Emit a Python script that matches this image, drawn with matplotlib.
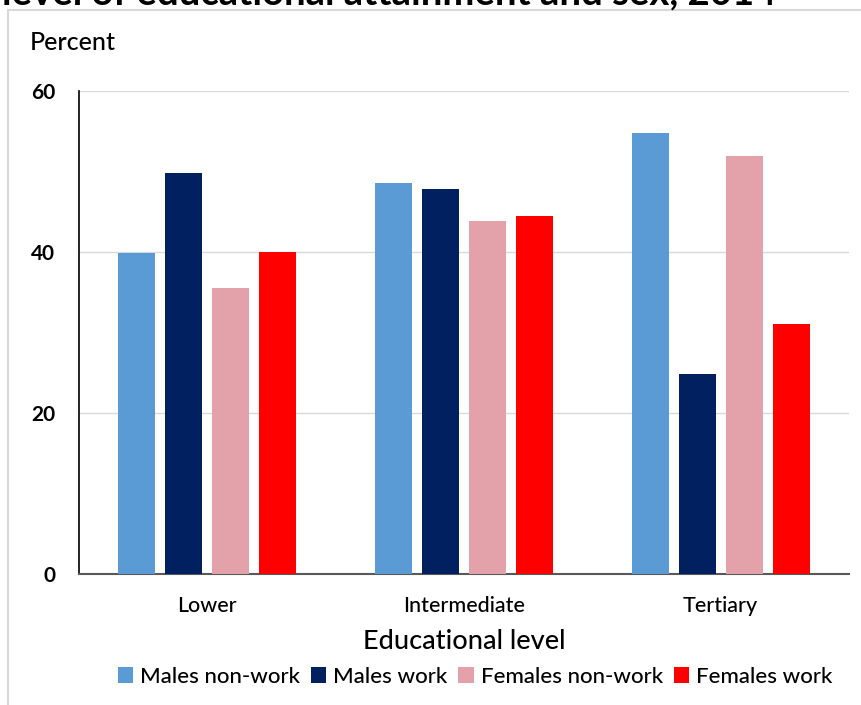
import matplotlib.pyplot as plt
import matplotlib.patches as patches
import numpy as np

# data
levels = ["Lower", "Intermediate", "Tertiary"]
series = ["Males non-work", "Males work", "Females non-work", "Females work"]
males_nonwork = [39.9, 48.6, 54.8]
males_work = [49.8, 47.8, 24.8]
females_nonwork = [35.5, 43.9, 51.9]
females_work = [40.0, 44.5, 31.1]
colors = ["#5B9BD5", "#002060", "#E3A2A9", "#FF0000"]

plt.rcParams['font.family'] = ['Lato', 'DejaVu Sans']

W, H = 862, 705
fig = plt.figure(figsize=(W / 100, H / 100), dpi=100)

# outer chart border (Excel style)
fig.patches.append(patches.Rectangle((8 / W, -0.1), 1.2, (H - 10) / H + 0.1,
                                     transform=fig.transFigure, fill=False,
                                     edgecolor="#d9d9d9", lw=1.5))

# title, cut off at the top of the picture
fig.text(2 / W, 1 - 4 / H, "level of educational attainment and sex, 2014",
         fontsize=27.5, fontweight='bold', va='baseline', ha='left')

ax = fig.add_axes([79 / W, (H - 574) / H, 770 / W, 483 / H])

x = np.arange(len(levels))
width = 0.144
step = 0.183
values = [males_nonwork, males_work, females_nonwork, females_work]
for i, (name, vals, c) in enumerate(zip(series, values, colors)):
    ax.bar(x + (i - 1.5) * step, vals, width, color=c, label=name, zorder=3)

ax.set_xlim(-0.5, 2.5)
ax.set_ylim(0, 60)
ax.set_yticks([0, 20, 40, 60])
ax.set_yticklabels(["0", "20", "40", "60"], fontsize=15, fontweight='bold')
ax.set_xticks(x)
ax.set_xticklabels(levels, fontsize=15.5, fontweight='medium')
ax.tick_params(axis='both', length=0)
ax.tick_params(axis='y', pad=17)
ax.tick_params(axis='x', pad=16)
ax.grid(axis='y', color='#d9d9d9', lw=1, zorder=0)

for s in ['top', 'right']:
    ax.spines[s].set_visible(False)
ax.spines['left'].set_color('black')
ax.spines['left'].set_linewidth(1.2)
ax.spines['bottom'].set_color('#595959')
ax.spines['bottom'].set_linewidth(1.5)

ax.set_xlabel("Educational level", fontsize=19.5, fontweight='medium', labelpad=9)
fig.text(30 / W, 1 - 43 / H, "Percent", fontsize=18, fontweight='medium',
         va='center', ha='left')

handles, labels = ax.get_legend_handles_labels()
fig.legend(handles, labels, loc='center', bbox_to_anchor=(475 / W, 1 - 677 / H),
           ncol=4, frameon=False, handlelength=0.7, handleheight=0.7,
           handletextpad=0.3, columnspacing=0.5,
           prop={'size': 16, 'weight': 'medium'})

fig.savefig("out.png", dpi=100)
